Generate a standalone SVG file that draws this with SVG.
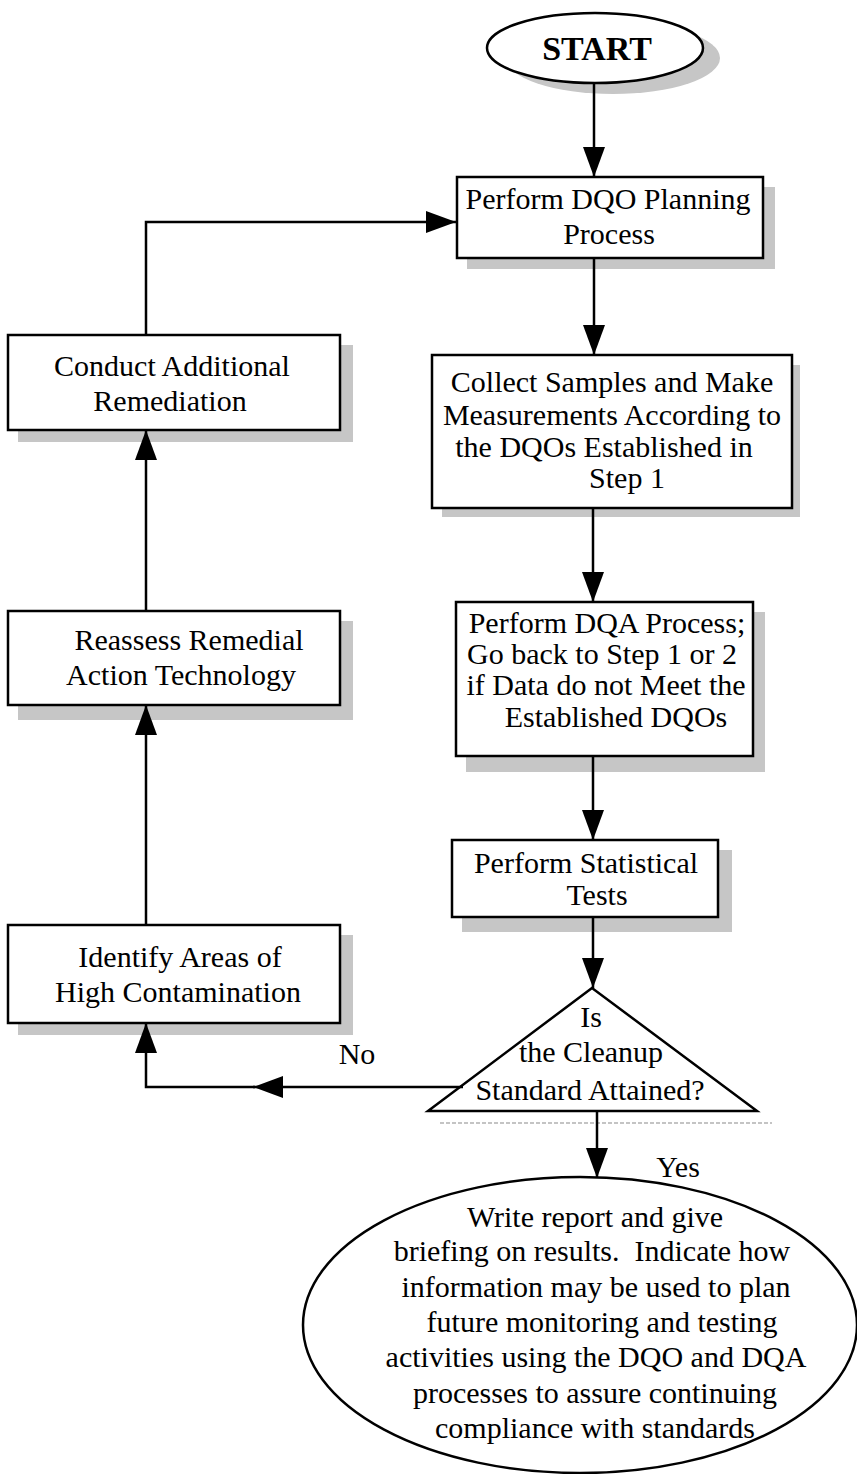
<svg xmlns="http://www.w3.org/2000/svg" width="857" height="1474" viewBox="0 0 857 1474">
<defs>
<marker id="ah" markerUnits="userSpaceOnUse" markerWidth="30" markerHeight="22" refX="30" refY="11" orient="auto">
<path d="M0,0 L30,11 L0,22 z" fill="#000"/>
</marker>
</defs>
<style>
.box{fill:#fff;stroke:#000;stroke-width:2.5}
.sh{fill:#c6c6c6;stroke:none}
.t{font-family:"Liberation Serif","Times New Roman",serif;font-size:30px;fill:#000;text-anchor:middle}
.b{font-weight:bold;font-size:34px}
.c{fill:none;stroke:#000;stroke-width:2.5}
</style>
<rect width="857" height="1474" fill="#fff"/>

<g id="start">
<ellipse class="sh" cx="613" cy="58" rx="107" ry="36"/>
<ellipse class="box" cx="595" cy="48" rx="108" ry="35"/>
<text class="t b" x="597" y="60">START</text>
</g>

<g id="dqo-planning">
<rect class="sh" x="467" y="187" width="308" height="82"/>
<rect class="box" x="457" y="177" width="306" height="81"/>
<text class="t" x="608" y="209">Perform DQO Planning</text>
<text class="t" x="609" y="244">Process</text>
</g>

<g id="collect-samples">
<rect class="sh" x="442" y="365" width="358" height="152"/>
<rect class="box" x="432" y="355" width="360" height="153"/>
<text class="t" x="612" y="392">Collect Samples and Make</text>
<text class="t" x="612" y="425">Measurements According to</text>
<text class="t" x="604" y="457">the DQOs Established in</text>
<text class="t" x="627" y="488">Step 1</text>
</g>

<g id="dqa-process">
<rect class="sh" x="466" y="612" width="299" height="160"/>
<rect class="box" x="456" y="602" width="297" height="154"/>
<text class="t" x="607" y="633">Perform DQA Process;</text>
<text class="t" x="602" y="664">Go back to Step 1 or 2</text>
<text class="t" x="606" y="695">if Data do not Meet the</text>
<text class="t" x="616" y="727">Established DQOs</text>
</g>

<g id="statistical-tests">
<rect class="sh" x="462" y="850" width="270" height="82"/>
<rect class="box" x="452" y="840" width="266" height="77"/>
<text class="t" x="586" y="873">Perform Statistical</text>
<text class="t" x="597" y="905">Tests</text>
</g>

<g id="decision">
<line x1="440" y1="1123" x2="772" y2="1123" stroke="#c4c4c4" stroke-width="2" stroke-dasharray="4 2"/>
<polygon class="box" points="592,988 428,1111 757,1111"/>
<text class="t" x="591" y="1027">Is</text>
<text class="t" x="591" y="1062">the Cleanup</text>
<text class="t" x="590" y="1100">Standard Attained?</text>
</g>

<g id="write-report">
<ellipse class="box" cx="580" cy="1325" rx="277" ry="148"/>
<text class="t" x="595" y="1227">Write report and give</text>
<text class="t" x="592" y="1261">briefing on results.&#160; Indicate how</text>
<text class="t" x="596" y="1297">information may be used to plan</text>
<text class="t" x="602" y="1332">future monitoring and testing</text>
<text class="t" x="596" y="1367">activities using the DQO and DQA</text>
<text class="t" x="595" y="1403">processes to assure continuing</text>
<text class="t" x="595" y="1438">compliance with standards</text>
</g>

<g id="conduct-remediation">
<rect class="sh" x="18" y="345" width="335" height="97"/>
<rect class="box" x="8" y="335" width="332" height="95"/>
<text class="t" x="172" y="376">Conduct Additional</text>
<text class="t" x="170" y="411">Remediation</text>
</g>

<g id="reassess">
<rect class="sh" x="18" y="621" width="335" height="99"/>
<rect class="box" x="8" y="611" width="332" height="94"/>
<text class="t" x="189" y="650">Reassess Remedial</text>
<text class="t" x="181" y="685">Action Technology</text>
</g>

<g id="identify">
<rect class="sh" x="18" y="935" width="335" height="100"/>
<rect class="box" x="8" y="925" width="332" height="98"/>
<text class="t" x="180" y="967">Identify Areas of</text>
<text class="t" x="178" y="1002">High Contamination</text>
</g>

<g id="connectors">
<path class="c" d="M594,83 V177" marker-end="url(#ah)"/>
<path class="c" d="M594,258 V355" marker-end="url(#ah)"/>
<path class="c" d="M593,508 V602" marker-end="url(#ah)"/>
<path class="c" d="M593,756 V840" marker-end="url(#ah)"/>
<path class="c" d="M593,917 V988" marker-end="url(#ah)"/>
<path class="c" d="M597,1111 V1178" marker-end="url(#ah)"/>
<path class="c" d="M463,1087 H253" marker-end="url(#ah)"/>
<path class="c" d="M255,1087 H146 V1023" marker-end="url(#ah)"/>
<path class="c" d="M146,925 V705" marker-end="url(#ah)"/>
<path class="c" d="M146,611 V430" marker-end="url(#ah)"/>
<path class="c" d="M146,335 V222 H456" marker-end="url(#ah)"/>
<text class="t" x="357" y="1064">No</text>
<text class="t" x="678" y="1177">Yes</text>
</g>
</svg>
